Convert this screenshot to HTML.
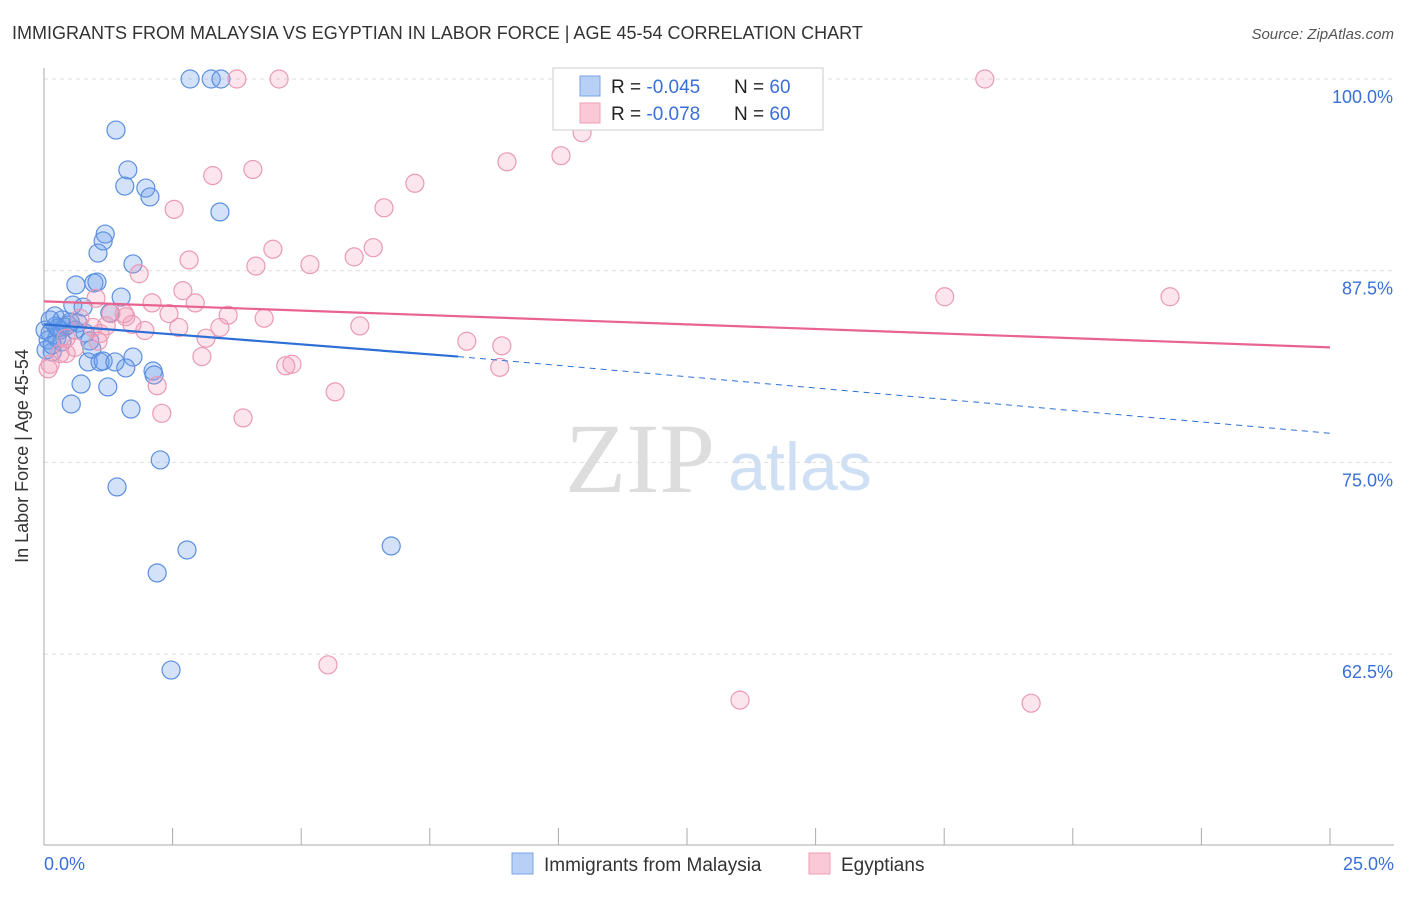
<!DOCTYPE html>
<html><head><meta charset="utf-8"><style>
body{margin:0;background:#fff;font-family:"Liberation Sans",sans-serif}
</style></head><body>
<svg width="1406" height="892" xmlns="http://www.w3.org/2000/svg" font-family="Liberation Sans, sans-serif">
<text x="12" y="39" font-size="18" fill="#333">IMMIGRANTS FROM MALAYSIA VS EGYPTIAN IN LABOR FORCE | AGE 45-54 CORRELATION CHART</text>
<text x="1394" y="39" font-size="15" fill="#555" font-style="italic" text-anchor="end">Source: ZipAtlas.com</text>
<text x="640" y="492" font-size="100" fill="#ddd" font-family="Liberation Serif, serif" text-anchor="middle">ZIP</text>
<text x="800" y="490" font-size="68" fill="#cfe0f5" text-anchor="middle">atlas</text>
<g id="grid"></g>
<line x1="44" y1="68" x2="44" y2="845" stroke="#aaa"/>
<line x1="44" y1="845" x2="1394" y2="845" stroke="#aaa"/>
<g id="xticks"></g>
<text x="28" y="456" font-size="18" fill="#333" text-anchor="middle" transform="rotate(-90 28 456)">In Labor Force | Age 45-54</text>
<text x="44" y="870" font-size="18" fill="#3a6fd8">0.0%</text>
<text x="1394" y="870" font-size="18" fill="#3a6fd8" text-anchor="end">25.0%</text>
<g id="pts"></g>
<g id="trend"></g>
<g>
<rect x="553" y="68" width="270" height="62" fill="#fff" stroke="#ccc"/>
<rect x="580" y="76" width="20" height="20" fill="#b8d0f5" stroke="#7aa3e8"/>
<rect x="580" y="103" width="20" height="20" fill="#fac8d6" stroke="#ee9fb7"/>
<text x="611" y="93" font-size="19" fill="#222">R = <tspan fill="#3a6fd8">-0.045</tspan><tspan x="734">N = </tspan><tspan fill="#3a6fd8">60</tspan></text>
<text x="611" y="120" font-size="19" fill="#222">R = <tspan fill="#3a6fd8"> -0.078</tspan><tspan x="734">N = </tspan><tspan fill="#3a6fd8">60</tspan></text>
</g>
<g>
<rect x="512" y="853" width="21" height="21" fill="#b8d0f5" stroke="#7aa3e8"/>
<text x="544" y="871" font-size="19" fill="#333">Immigrants from Malaysia</text>
<rect x="809" y="853" width="21" height="21" fill="#fac8d6" stroke="#ee9fb7"/>
<text x="841" y="871" font-size="19" fill="#333">Egyptians</text>
</g>
</svg>
<script>
const yTicks=[100,87.5,75,62.5];
const yTickLabels=["100.0%","87.5%","75.0%","62.5%"];
const blueX=[2.84,3.25,3.44,1.40,1.63,1.57,1.98,2.06,3.42,1.19,1.15,1.05,1.73,0.62,0.97,1.03,1.50,0.56,0.76,1.28,0.21,0.35,0.23,0.47,0.66,0.80,0.41,0.12,0.89,0.93,0.16,0.86,1.09,1.15,1.38,1.73,1.59,2.12,2.14,0.72,1.24,0.53,1.69,2.26,1.42,2.78,6.75,2.20,2.47,0.08,0.04,0.31,0.51,0.25,0.02,0.12,0.27,0.60,0.35,0.16];
const blueY=[100,100,100,96.67,94.07,93.02,92.89,92.31,91.33,89.89,89.44,88.65,87.94,86.57,86.70,86.76,85.78,85.26,85.13,84.74,84.55,84.29,83.89,83.96,84.09,83.44,83.83,83.44,82.92,82.39,82.20,81.55,81.55,81.61,81.55,81.87,81.16,80.96,80.70,80.11,79.92,78.81,78.48,75.16,73.40,69.29,69.55,67.79,61.46,82.98,82.33,83.63,84.15,83.11,83.63,84.29,83.76,83.63,82.85,82.66];
const pinkX=[3.75,4.57,18.29,10.46,10.05,9.00,4.06,3.28,7.21,2.53,6.61,4.45,6.40,2.82,4.12,5.17,6.03,1.85,2.70,17.51,21.89,1.01,2.10,2.94,2.43,3.58,4.28,1.59,1.30,1.56,6.14,3.42,2.62,1.96,1.71,1.21,0.95,3.15,1.05,0.43,8.22,8.90,3.07,0.43,4.82,4.70,8.86,2.20,5.66,2.29,3.87,5.52,13.53,19.19,0.70,1.09,0.31,0.12,0.60,0.08];
const pinkY=[100,100,100,96.5,95.0,94.6,94.1,93.7,93.2,91.5,91.6,88.9,89.0,88.2,87.8,87.9,88.4,87.3,86.2,85.8,85.8,85.7,85.4,85.4,84.7,84.6,84.4,84.5,84.7,84.7,83.9,83.8,83.8,83.6,84.0,83.9,83.8,83.1,82.9,83.1,82.9,82.6,81.9,82.1,81.4,81.3,81.2,80.0,79.6,78.2,77.9,61.8,59.5,59.3,84.4,83.4,82.1,81.4,82.5,81.1];
const blueTrend=[[0,84.0],[8.05,81.9]];
const blueDash=[[8.05,81.9],[25,76.9]];
const pinkTrend=[[0,85.5],[25,82.5]];
const X=v=>44+v/25*1286;
const Y=v=>79+(100-v)/12.5*191.7;
const NS="http://www.w3.org/2000/svg";
function mk(tag,attrs,parent){const e=document.createElementNS(NS,tag);for(const k in attrs)e.setAttribute(k,attrs[k]);parent.appendChild(e);return e;}
const grid=document.getElementById('grid');
yTicks.forEach((t,i)=>{
 const l=mk('line',{x1:44,x2:1394,y1:Y(t),y2:Y(t),stroke:'#ddd','stroke-dasharray':'4,4'},grid);
 
 
 const tx=mk('text',{x:1393,y:Y(t)+24,'font-size':18,fill:'#3a6fd8','text-anchor':'end'},grid);
 tx.textContent=yTickLabels[i];
 
 
});
const xt=document.getElementById('xticks');
for(let i=1;i<=10;i++){const l=mk('line',{x1:X(i*2.5),x2:X(i*2.5),y1:828,y2:845,stroke:'#aaa'},xt);
 
 }
const pts=document.getElementById('pts');
blueX.forEach((v,i)=>{const c=mk('circle',{cx:X(v),cy:Y(blueY[i]),r:9,fill:'rgba(110,160,235,0.3)',stroke:'#5b8fe0','stroke-width':1.2},pts);
 
 });
pinkX.forEach((v,i)=>{const c=mk('circle',{cx:X(v),cy:Y(pinkY[i]),r:9,fill:'rgba(245,150,180,0.25)',stroke:'#ea9ab4','stroke-width':1.2},pts);
 
 });
const tr=document.getElementById('trend');
let l1=mk('line',{x1:X(blueTrend[0][0]),y1:Y(blueTrend[0][1]),x2:X(blueTrend[1][0]),y2:Y(blueTrend[1][1]),stroke:'#2d6fd6','stroke-width':2.2},tr);


let l2=mk('line',{x1:X(blueDash[0][0]),y1:Y(blueDash[0][1]),x2:X(blueDash[1][0]),y2:Y(blueDash[1][1]),stroke:'#2d6fd6','stroke-width':1,'stroke-dasharray':'6,5'},tr);


let l3=mk('line',{x1:X(pinkTrend[0][0]),y1:Y(pinkTrend[0][1]),x2:X(pinkTrend[1][0]),y2:Y(pinkTrend[1][1]),stroke:'#e8648e','stroke-width':2.2},tr);


</script>
</body></html>
